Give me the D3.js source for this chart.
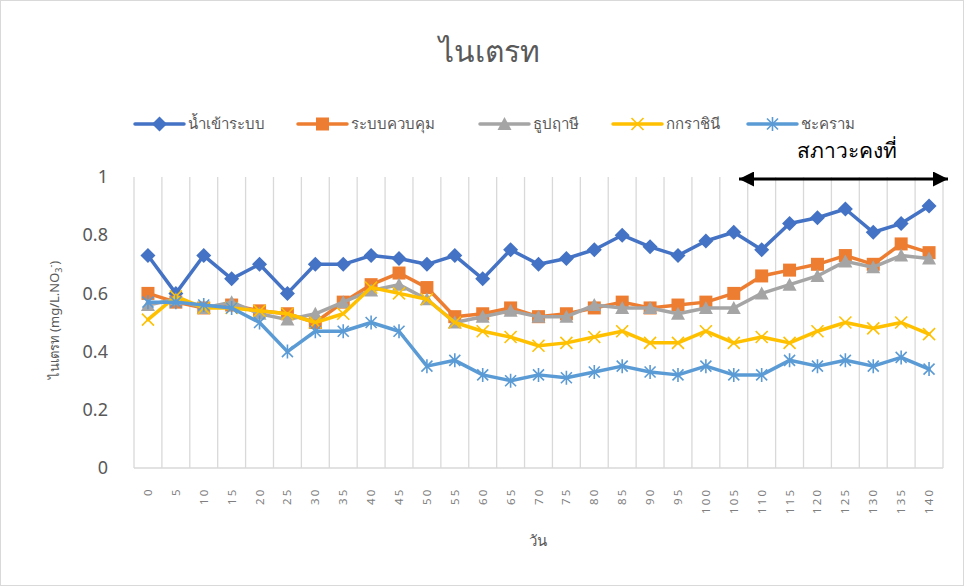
<!DOCTYPE html>
<html><head><meta charset="utf-8">
<script src="https://cdn.jsdelivr.net/npm/d3@7"></script>
<style>body{margin:0;background:#fff}svg{display:block}text{font-family:"Noto Sans","Open Sans",sans-serif}</style>
</head><body><svg id="c" width="965" height="587"></svg>
<script>
const categories = [0,5,10,15,20,25,30,35,40,45,50,55,60,65,70,75,80,85,90,95,100,105,110,115,120,125,130,135,140];
const seriesNames = ["น้ำเข้าระบบ","ระบบควบคุม","ธูปฤาษี","กกราชินี","ชะคราม"];
const inflow   = [0.73,0.60,0.73,0.65,0.70,0.60,0.70,0.70,0.73,0.72,0.70,0.73,0.65,0.75,0.70,0.72,0.75,0.80,0.76,0.73,0.78,0.81,0.75,0.84,0.86,0.89,0.81,0.84,0.90];
const control  = [0.60,0.57,0.55,0.56,0.54,0.53,0.50,0.57,0.63,0.67,0.62,0.52,0.53,0.55,0.52,0.53,0.55,0.57,0.55,0.56,0.57,0.60,0.66,0.68,0.70,0.73,0.70,0.77,0.74];
const typha    = [0.56,0.58,0.55,0.57,0.53,0.51,0.53,0.57,0.61,0.63,0.58,0.50,0.52,0.54,0.52,0.52,0.56,0.55,0.55,0.53,0.55,0.55,0.60,0.63,0.66,0.71,0.69,0.73,0.72];
const cyperus  = [0.51,0.59,0.55,0.55,0.54,0.53,0.50,0.53,0.62,0.60,0.58,0.50,0.47,0.45,0.42,0.43,0.45,0.47,0.43,0.43,0.47,0.43,0.45,0.43,0.47,0.50,0.48,0.50,0.46];
const canna    = [0.57,0.57,0.56,0.55,0.50,0.40,0.47,0.47,0.50,0.47,0.35,0.37,0.32,0.30,0.32,0.31,0.33,0.35,0.33,0.32,0.35,0.32,0.32,0.37,0.35,0.37,0.35,0.38,0.34];
const yTicks = [0,0.2,0.4,0.6,0.8,1];
const colors = ["#4472C4","#ED7D31","#A5A5A5","#FFC000","#5B9BD5"];
const markers = ["diamond","square","triangle","x","star"];
const allSeries = [inflow,control,typha,cyperus,canna];

const svg = d3.select("#c");
svg.append("rect").attr("x",0.5).attr("y",0.5).attr("width",963).attr("height",585).attr("fill","#fff").attr("stroke","#D9D9D9");

const x = d3.scaleBand().domain(categories).range([134,943]).padding(0);
const y = d3.scaleLinear().domain([0,1]).range([468,177]);
const cx = d => x(d) + x.bandwidth()/2;

const bounds = categories.map(c => x(c)).concat([943]);
svg.append("g").selectAll("line").data(bounds).join("line")
  .attr("x1",d=>d).attr("x2",d=>d).attr("y1",y(1)).attr("y2",y(0))
  .attr("stroke","#D9D9D9").attr("stroke-width",1.3);
svg.append("line").attr("x1",134).attr("x2",943).attr("y1",y(0)).attr("y2",y(0)).attr("stroke","#D9D9D9").attr("stroke-width",1.3);

const xa = svg.append("g").attr("transform","translate(0,487)")
  .call(d3.axisBottom(x).tickSize(0).tickPadding(0));
xa.select(".domain").remove();
xa.selectAll("text").attr("transform","rotate(-90)").attr("text-anchor","start")
  .attr("x",d => -(String(d).length*9)).attr("y",0).attr("dy","0.35em").attr("fill","#7F7F7F")
  .style("font-size","11.5px").style("letter-spacing","2.2px");

const ya = svg.append("g").attr("transform","translate(116,0)")
  .call(d3.axisLeft(y).tickValues(yTicks).tickFormat(d3.format("~g")).tickSize(0).tickPadding(8));
ya.select(".domain").remove();
ya.selectAll("text").attr("fill","#595959").style("font-size","18px");

function drawMarker(g, type, color, px, py) {
  if (type==="diamond") {
    g.append("path").attr("d",`M${px},${py-7.5}L${px+7.5},${py}L${px},${py+7.5}L${px-7.5},${py}Z`).attr("fill",color);
  } else if (type==="square") {
    g.append("rect").attr("x",px-6.5).attr("y",py-6.5).attr("width",13).attr("height",13).attr("fill",color);
  } else if (type==="triangle") {
    g.append("path").attr("d",`M${px},${py-7}L${px+7},${py+6}L${px-7},${py+6}Z`).attr("fill",color);
  } else if (type==="x") {
    g.append("path").attr("d",`M${px-6},${py-6}L${px+6},${py+6}M${px-6},${py+6}L${px+6},${py-6}`).attr("stroke",color).attr("stroke-width",1.6);
  } else if (type==="star") {
    g.append("path").attr("d",`M${px-5.5},${py-5.5}L${px+5.5},${py+5.5}M${px-5.5},${py+5.5}L${px+5.5},${py-5.5}M${px},${py-7}L${px},${py+7}`).attr("stroke",color).attr("stroke-width",1.6);
  }
}

const line = d3.line().x((d,i)=>cx(categories[i])).y(d=>y(d));
allSeries.forEach((vals, si) => {
  const g = svg.append("g");
  g.append("path").datum(vals).attr("d",line).attr("fill","none")
    .attr("stroke",colors[si]).attr("stroke-width",3.5).attr("stroke-linejoin","round").attr("stroke-linecap","round");
  vals.forEach((v,i)=>drawMarker(g, markers[si], colors[si], cx(categories[i]), y(v)));
});

svg.append("text").attr("x",489).attr("y",62).attr("text-anchor","middle")
  .attr("fill","#595959").style("font-size","30px").text("ไนเตรท");

const legX = [135,298,480,613,748];
seriesNames.forEach((n,i)=>{
  const g = svg.append("g");
  const lx = legX[i];
  g.append("line").attr("x1",lx).attr("x2",lx+49).attr("y1",124).attr("y2",124).attr("stroke",colors[i]).attr("stroke-width",3.5).attr("stroke-linecap","round");
  drawMarker(g, markers[i], colors[i], lx+24.5, 124);
  g.append("text").attr("x",lx+53).attr("y",124).attr("dy","0.35em").attr("fill","#595959").style("font-size","15px").text(n);
});

const yt = svg.append("text").attr("transform","translate(59,320) rotate(-90)").attr("text-anchor","middle")
  .attr("fill","#595959").style("font-size","13px");
yt.append("tspan").text("ไนเตรท (mg/L.NO");
yt.append("tspan").attr("dy",3).style("font-size","9px").text("3");
yt.append("tspan").attr("dy",-8).style("font-size","9px").text("-");
yt.append("tspan").attr("dy",5).text(")");

svg.append("text").attr("x",538).attr("y",546).attr("text-anchor","middle").attr("fill","#595959").style("font-size","15px").text("วัน");

svg.append("defs").html('<marker id="ah" viewBox="0 0 10 10" refX="10" refY="5" markerWidth="5" markerHeight="5" orient="auto-start-reverse"><path d="M0,0L10,5L0,10Z" fill="#000"/></marker>');
svg.append("line").attr("x1",739).attr("x2",948).attr("y1",179).attr("y2",179).attr("stroke","#000").attr("stroke-width",3)
  .attr("marker-start","url(#ah)").attr("marker-end","url(#ah)");
svg.append("text").attr("x",797).attr("y",158).attr("fill","#000").style("font-size","21px").style("font-weight","300").text("สภาวะคงที่");
</script></body></html>
